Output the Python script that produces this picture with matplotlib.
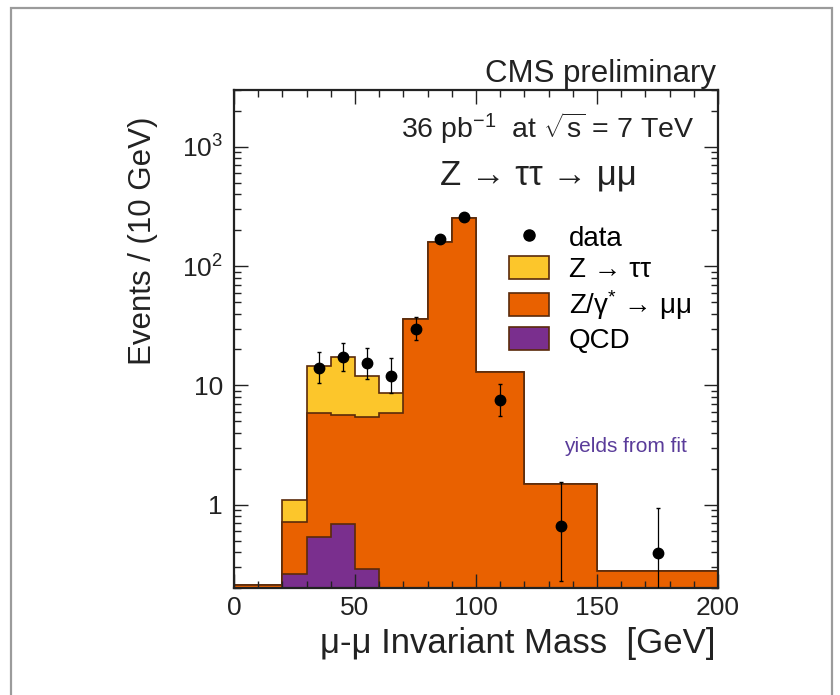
"""
Z -> tautau -> mumu: invariant mass of the muon pair (CMS preliminary).
Stacked histogram on a log scale with data points.
"""

import matplotlib
matplotlib.use("Agg")
import matplotlib.pyplot as plt
from matplotlib.patches import Patch, Rectangle
from matplotlib.lines import Line2D
from matplotlib.ticker import MultipleLocator, LogLocator, FixedLocator, NullFormatter, FuncFormatter

plt.rcParams["font.family"] = ["Liberation Sans", "DejaVu Sans"]
plt.rcParams["mathtext.fontset"] = "custom"
plt.rcParams["mathtext.rm"] = "Liberation Sans"
plt.rcParams["mathtext.it"] = "Liberation Sans:italic"
plt.rcParams["mathtext.sf"] = "Liberation Sans"

# Binning (GeV)
BIN_EDGES = [0, 20, 30, 40, 50, 60, 70, 80, 90, 100, 120, 150, 200]

# Stack components (events / 10 GeV), bottom to top
QCD = [0, 0.26, 0.54, 0.69, 0.29, 0, 0, 0, 0, 0, 0, 0]
ZMUMU = [0.21, 0.45, 5.31, 4.96, 5.11, 5.9, 35.9, 160, 251, 13.0, 1.5, 0.28]
ZTAUTAU = [0, 0.39, 8.65, 11.65, 6.7, 2.7, 0, 0, 0, 0, 0, 0]

# Data points
DATA_X = [35, 45, 55, 65, 75, 85, 95, 110, 135, 175]
DATA_Y = [14.0, 17.2, 15.3, 12.1, 29.6, 170, 257, 7.6, 0.66, 0.39]
ERR_LO = [3.5, 4.1, 3.9, 3.5, 5.7, 13, 16, 2.1, 0.43, 0.38]
ERR_HI = [5.2, 5.6, 5.1, 4.9, 7.7, 13, 16, 2.7, 0.88, 0.54]

YELLOW = "#fcc62b"
ORANGE = "#e96100"
PURPLE = "#7a2f8e"
EDGE = "#5a2a0a"
INK = "#222222"


def main():
    fig = plt.figure(figsize=(8.4, 6.95), dpi=100)
    ax = fig.add_axes([234 / 840, 1 - 588 / 695, 484 / 840, 498 / 695])

    # cumulative stack
    lvl_qcd = list(QCD)
    lvl_mumu = [q + m for q, m in zip(QCD, ZMUMU)]
    lvl_total = [a + t for a, t in zip(lvl_mumu, ZTAUTAU)]

    base = 0.01
    for level, color in [(lvl_total, YELLOW), (lvl_mumu, ORANGE), (lvl_qcd, PURPLE)]:
        vals = [max(v, base) for v in level]
        ax.stairs(vals, BIN_EDGES, baseline=base, fill=True, color=color)
        ax.stairs(vals, BIN_EDGES, baseline=base, color=EDGE, lw=1.2)

    ax.errorbar(DATA_X, DATA_Y, yerr=[ERR_LO, ERR_HI], fmt="o", color="black",
                ms=7.5, elinewidth=0.9, capsize=1.5, zorder=5)

    ax.set_yscale("log")
    ax.set_xlim(0, 200)
    ax.set_ylim(0.2, 3000)

    ax.xaxis.set_major_locator(MultipleLocator(50))
    ax.xaxis.set_minor_locator(MultipleLocator(10))
    ax.yaxis.set_major_locator(FixedLocator([1, 10, 100, 1000]))
    ax.yaxis.set_minor_locator(LogLocator(base=10, subs=range(2, 10)))
    ax.yaxis.set_minor_formatter(NullFormatter())
    ylabels = {1: "1", 10: "10", 100: r"$10^{2}$", 1000: r"$10^{3}$"}
    ax.yaxis.set_major_formatter(FuncFormatter(lambda v, p: ylabels.get(int(round(v)), "")))

    ax.tick_params(which="both", direction="in", top=True, right=True, width=1,
                   labelsize=19, colors=INK)
    ax.tick_params(which="major", length=10)
    ax.tick_params(which="minor", length=5)
    ax.tick_params(axis="x", pad=6)
    ax.tick_params(axis="y", pad=8)
    for spine in ax.spines.values():
        spine.set_linewidth(1.6)
        spine.set_color(INK)

    # axis titles (ROOT style, aligned to the end of the axis)
    fig.text(716 / 840, 1 - 643 / 695, "μ-μ Invariant Mass  [GeV]", fontsize=25,
             ha="right", va="center", color=INK)
    fig.text(158 / 840, 1 - 365 / 695, "Events / (10 GeV)", rotation=90,
             fontsize=22.5, ha="right", va="bottom", color=INK)

    fig.text(716 / 840, 1 - 82 / 695, "CMS preliminary", fontsize=22.5,
             ha="right", va="baseline", color=INK)
    fig.text(548 / 840, 1 - 128 / 695, r"36 pb$^{-1}$  at $\sqrt{\mathrm{s}}$ = 7 TeV",
             fontsize=20.5, ha="center", va="center", color=INK)
    fig.text(538 / 840, 1 - 175 / 695, "Z → ττ → μμ", fontsize=25,
             ha="center", va="center", color=INK)
    fig.text(625 / 840, 1 - 447 / 695, "yields from fit", fontsize=15,
             ha="center", va="center", color="#5a3c9a")

    handles = [
        Line2D([], [], marker="o", ls="none", color="black", ms=8),
        Patch(facecolor=YELLOW, edgecolor=EDGE, lw=1.2),
        Patch(facecolor=ORANGE, edgecolor=EDGE, lw=1.2),
        Patch(facecolor=PURPLE, edgecolor=EDGE, lw=1.2),
    ]
    labels = ["data", "Z → ττ", r"Z/γ$^{*}$ → μμ", "QCD"]
    ax.legend(handles, labels, loc="upper left", bbox_to_anchor=(0.568, 0.73),
              frameon=False, fontsize=20, handlelength=1.45, handleheight=0.9,
              labelspacing=0.17, handletextpad=0.7, borderpad=0, borderaxespad=0)

    # grey frame around the whole picture
    fig.patches.append(Rectangle((11 / 840, -0.05), 821 / 840, 1 - 8 / 695 + 0.05,
                                 transform=fig.transFigure, fill=False,
                                 edgecolor="#9b9b9b", lw=1.6))

    fig.savefig("out.png", dpi=100)
    plt.close(fig)


if __name__ == "__main__":
    main()
